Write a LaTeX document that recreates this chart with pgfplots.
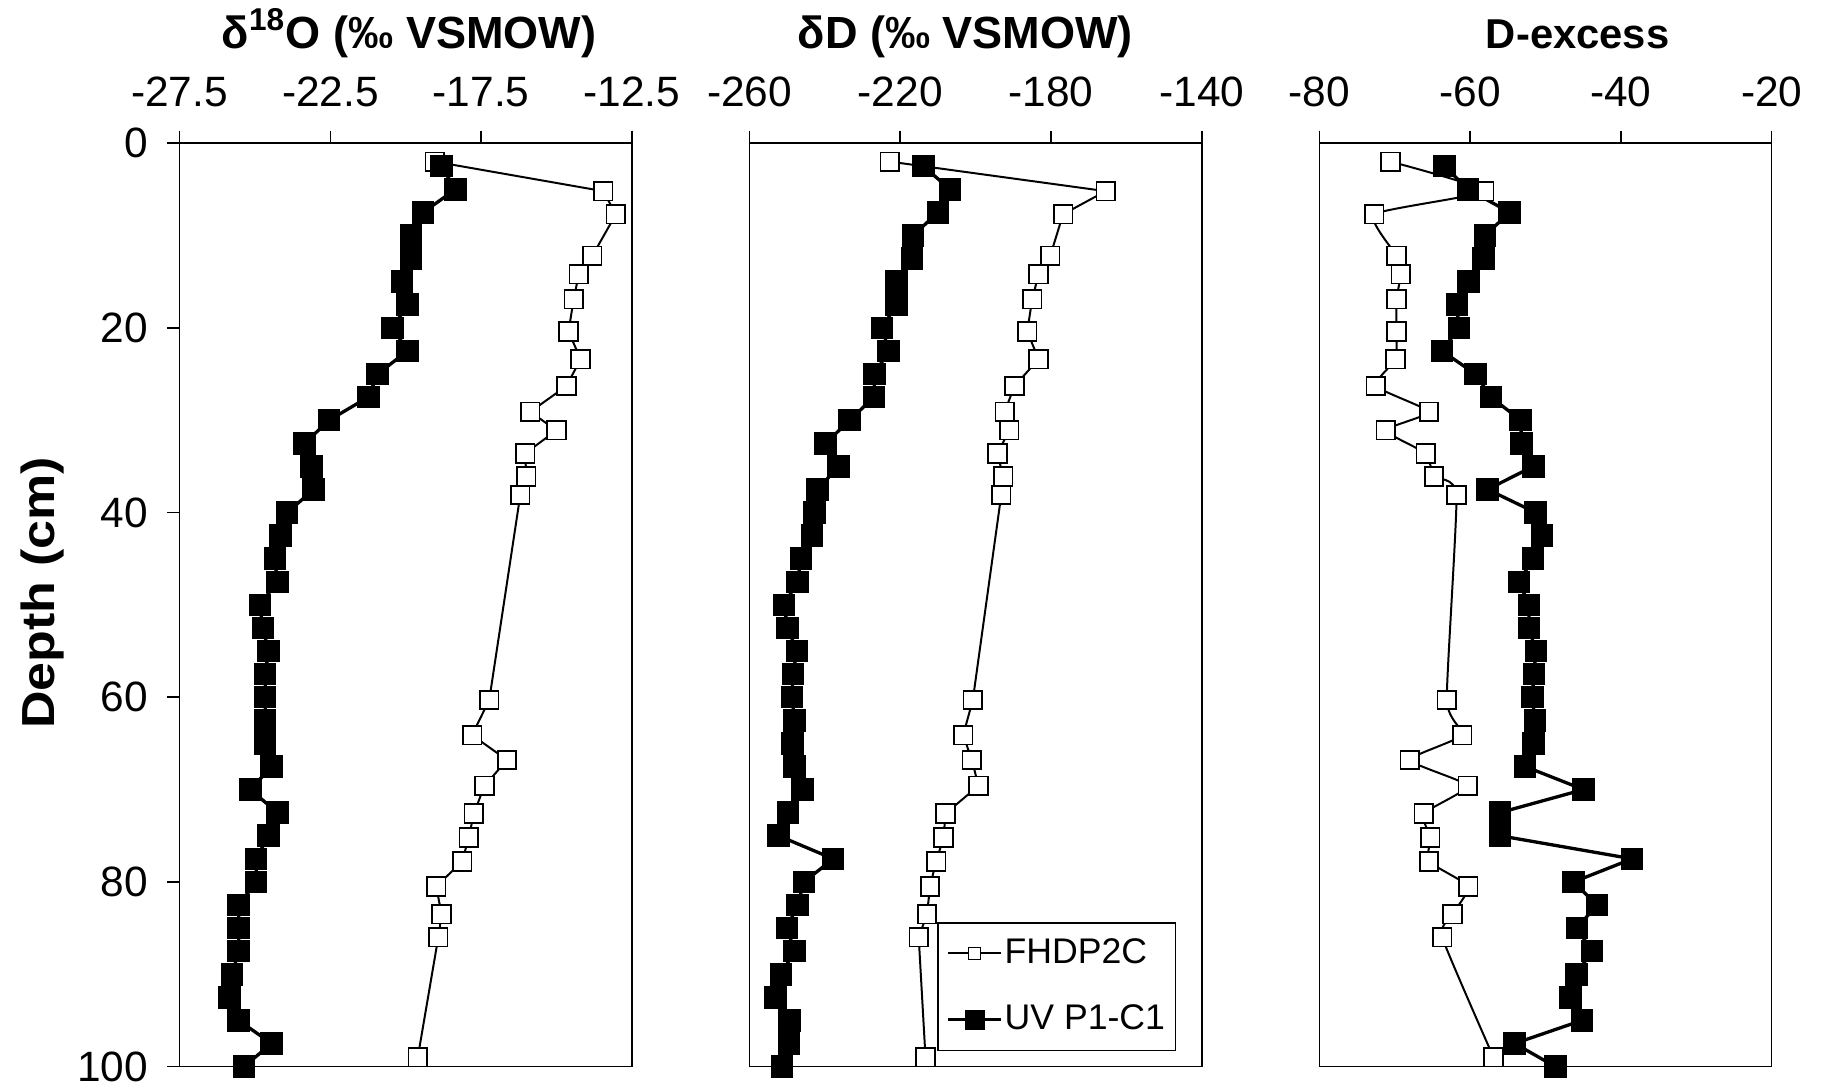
\documentclass[border=0pt]{standalone}
\usepackage{fontspec}
\setmainfont{Liberation Sans}
\newfontfamily\stretchfont{Liberation Sans}[FakeStretch=1.12]
\usepackage{pgfplots}
\pgfplotsset{compat=1.18}
\pgfplotsset{
 panel/.style={
  scale only axis, width=136.5pt, height=278.7pt,
  ymin=0, ymax=100, y dir=reverse,
  anchor=south west, clip=false,
  axis line style={line width=0.5pt},
  tick align=outside, major tick length=3.8pt,
  every tick/.style={black, line width=0.5pt},
  xtick pos=upper, xticklabel pos=upper,
  xticklabel style={font=\fontsize{12.8}{15}\selectfont, anchor=base, yshift=7.3pt},
  yticklabel style={font=\fontsize{12.8}{15}\selectfont, xshift=-2.2pt},
  /pgf/number format/assume math mode=true,
  title style={font=\fontsize{13.6}{16}\selectfont\bfseries, at={(0.5,1)}, anchor=base, yshift=22.7pt},
 },
 open/.style={black, line width=0.6pt, mark=square*, mark options={fill=white, line width=0.5pt, solid}, mark size=2.8pt},
 closed/.style={black, line width=1.0pt, mark=square*, mark options={fill=black, solid}, mark size=2.9pt},
}
\begin{document}
\begin{tikzpicture}
\useasboundingbox (0,-2pt) rectangle (550.5pt,327pt);
% Panel 1
\begin{axis}[panel, at={(54.2pt,5.1pt)},
  xmin=-27.5, xmax=-12.5, xtick={-27.5,-22.5,-17.5,-12.5},
  xticklabel style={/pgf/number format/fixed, /pgf/number format/fixed zerofill, /pgf/number format/precision=1},
  ytick={0,20,40,60,80,100}, ytick pos=left,
  title={δ\textsuperscript{18}O (‰ VSMOW)},
  title style={xshift=1pt},
  ylabel={\stretchfont\bfseries Depth (cm)},
  ylabel style={font=\fontsize{14}{16}\selectfont\bfseries, at={(axis description cs:-0.304,0.513)}, anchor=center},
]
\addplot[open] coordinates {(-19.04,2.0) (-13.45,5.2) (-13.03,7.7) (-13.81,12.2) (-14.26,14.2) (-14.43,16.9) (-14.6,20.4) (-14.2,23.4) (-14.67,26.3) (-15.87,29.1) (-15.0,31.1) (-16.04,33.6) (-16.0,36.1) (-16.2,38.1) (-17.23,60.3) (-17.8,64.1) (-16.64,66.8) (-17.39,69.6) (-17.74,72.6) (-17.91,75.2) (-18.13,77.8) (-18.99,80.5) (-18.81,83.5) (-18.92,86.0) (-19.6,99.0)};
\addplot[closed] coordinates {(-18.82,2.5) (-18.35,5) (-19.42,7.5) (-19.83,10) (-19.83,12.5) (-20.13,15) (-19.94,17.5) (-20.43,20) (-19.94,22.5) (-20.93,25) (-21.24,27.5) (-22.54,30) (-23.35,32.5) (-23.13,35) (-23.05,37.5) (-23.93,40) (-24.15,42.5) (-24.34,45) (-24.26,47.5) (-24.84,50) (-24.74,52.5) (-24.55,55) (-24.66,57.5) (-24.66,60) (-24.66,62.5) (-24.66,65) (-24.45,67.5) (-25.15,70) (-24.26,72.5) (-24.55,75) (-24.96,77.5) (-24.96,80) (-25.54,82.5) (-25.54,85) (-25.54,87.5) (-25.76,90) (-25.84,92.5) (-25.54,95) (-24.45,97.5) (-25.36,100)};
\end{axis}
% Panel 2
\begin{axis}[panel, at={(226.2pt,5.1pt)},
  xmin=-260, xmax=-140, xtick={-260,-220,-180,-140},
  ytick=\empty,
  title={δD (‰ VSMOW)},
  title style={xshift=-3.1pt},
  legend image code/.code={\draw[mark repeat=2,mark phase=2,#1] plot coordinates {(0pt,0pt)(8pt,0pt)(16pt,0pt)};},
  legend style={at={(0.943,0.017)}, anchor=south east, draw=black, line width=0.4pt, font=\fontsize{10.75}{13}\selectfont, inner xsep=2.5pt, inner ysep=2.7pt, row sep=7pt, nodes={inner xsep=0.6pt, inner ysep=2pt}},
  legend cell align=left,
]
\addplot[open, legend image post style={mark size=1.8pt}] coordinates {(-222.8,2.0) (-165.5,5.2) (-176.8,7.7) (-180.2,12.2) (-183.3,14.2) (-185.0,16.9) (-186.3,20.4) (-183.3,23.4) (-189.7,26.3) (-192.3,29.1) (-191.1,31.1) (-194.2,33.6) (-192.7,36.1) (-193.2,38.1) (-200.75,60.3) (-203.3,64.1) (-201.0,66.8) (-199.25,69.6) (-208.0,72.6) (-208.5,75.2) (-210.5,77.8) (-212.1,80.5) (-212.9,83.5) (-215.1,86.0) (-213.3,99.0)};
\addlegendentry{FHDP2C}
\addplot[closed, legend image post style={mark size=2.5pt}] coordinates {(-213.85,2.5) (-206.8,5) (-210.0,7.5) (-216.6,10) (-216.9,12.5) (-221.05,15) (-221.05,17.5) (-224.8,20) (-223.1,22.5) (-226.8,25) (-227.0,27.5) (-233.4,30) (-239.8,32.5) (-236.4,35) (-241.9,37.5) (-242.8,40) (-243.4,42.5) (-246.3,45) (-247.3,47.5) (-250.8,50) (-249.9,52.5) (-247.4,55) (-248.5,57.5) (-248.7,60) (-248.1,62.5) (-248.6,65) (-248.0,67.5) (-245.9,70) (-249.8,72.5) (-252.3,75) (-237.8,77.5) (-245.5,80) (-247.3,82.5) (-250.0,85) (-248.1,87.5) (-251.6,90) (-253.1,92.5) (-249.4,95) (-249.5,97.5) (-251.4,100)};
\addlegendentry{UV P1-C1}
\end{axis}
% Panel 3
\begin{axis}[panel, at={(398.2pt,5.1pt)},
  xmin=-80, xmax=-20, xtick={-80,-60,-40,-20},
  ytick=\empty,
  title={D-excess},
  title style={xshift=9.7pt, font=\fontsize{12.6}{15}\selectfont\bfseries},
]
\addplot[open, smooth, tension=0.3] coordinates {(-70.56,2.0) (-58.13,5.2) (-72.71,7.7) (-69.77,12.2) (-69.2,14.2) (-69.77,16.9) (-69.77,20.4) (-69.9,23.4) (-72.53,26.3) (-65.46,29.1) (-71.2,31.1) (-65.9,33.6) (-64.8,36.1) (-61.82,38.1) (-63.1,60.3) (-61.07,64.1) (-68.0,66.8) (-60.33,69.6) (-66.17,72.6) (-65.29,75.2) (-65.46,77.8) (-60.24,80.5) (-62.35,83.5) (-63.7,86.0) (-56.9,99.0)};
\addplot[closed] coordinates {(-63.4,2.5) (-60.3,5) (-54.75,7.5) (-58.04,10) (-58.26,12.5) (-60.24,15) (-61.77,17.5) (-61.5,20) (-63.75,22.5) (-59.3,25) (-57.25,27.5) (-53.3,30) (-53.17,32.5) (-51.63,35) (-57.69,37.5) (-51.32,40) (-50.44,42.5) (-51.67,45) (-53.5,47.5) (-52.2,50) (-52.2,52.5) (-51.28,55) (-51.54,57.5) (-51.76,60) (-51.41,62.5) (-51.63,65) (-52.73,67.5) (-44.95,70) (-56.07,72.5) (-56.07,75) (-38.5,77.5) (-46.27,80) (-43.2,82.5) (-45.83,85) (-43.86,87.5) (-45.92,90) (-46.7,92.5) (-45.17,95) (-54.1,97.5) (-48.7,100)};
\end{axis}
\end{tikzpicture}
\end{document}
